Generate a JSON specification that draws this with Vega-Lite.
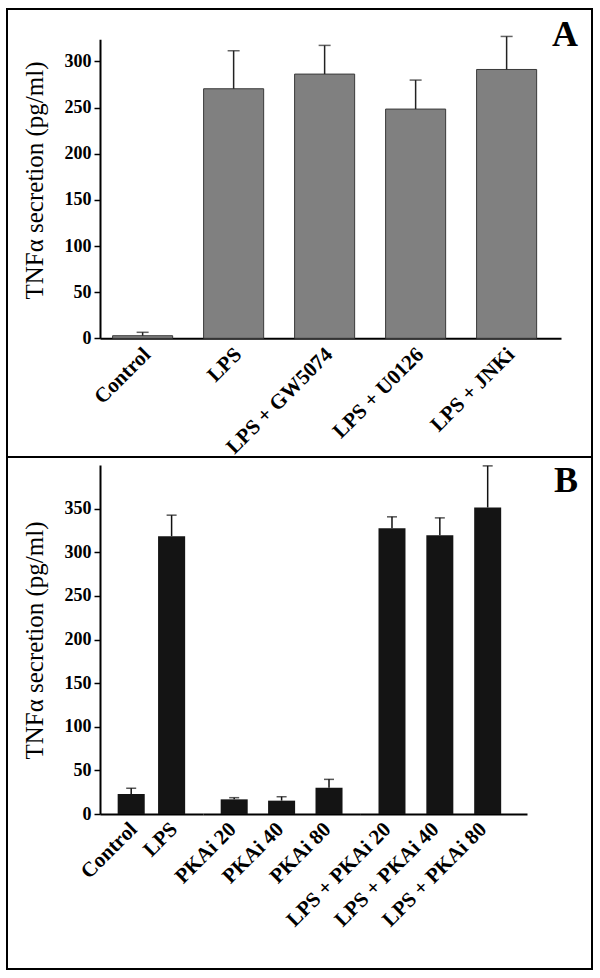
{
  "$schema": "https://vega.github.io/schema/vega-lite/v6.json",
  "padding": {"left": 6, "top": 8, "right": 0, "bottom": 0},
  "autosize": {"type": "pad"},
  "bounds": "flush",
  "spacing": 0,
  "background": "white",
  "config": {
    "view": {"stroke": "#000", "strokeWidth": 2},
    "axis": {"domainColor": "#000", "domainWidth": 2, "tickColor": "#000", "tickWidth": 1.5, "labelColor": "#000", "labelFont": "Liberation Serif", "labelFontWeight": "bold", "titleFont": "Liberation Serif", "titleFontWeight": "normal", "titleColor": "#000", "grid": false, "zindex": 1}
  },
  "datasets": {
    "a": [
      {"condition": "Control", "value": 2.8, "err": 6.5},
      {"condition": "LPS", "value": 270.4, "err": 311.6},
      {"condition": "LPS + GW5074", "value": 286.3, "err": 317.4},
      {"condition": "LPS + U0126", "value": 248.4, "err": 279.8},
      {"condition": "LPS + JNKi", "value": 291.3, "err": 327.1}
    ],
    "b": [
      {"group": "g1", "condition": "Control", "value": 22.9, "err": 29.4},
      {"group": "g1", "condition": "LPS", "value": 318.4, "err": 342.5},
      {"group": "g2", "condition": "PKAi 20", "value": 16.8, "err": 18.7},
      {"group": "g2", "condition": "PKAi 40", "value": 15.3, "err": 19.8},
      {"group": "g2", "condition": "PKAi 80", "value": 30.1, "err": 39.7},
      {"group": "g3", "condition": "LPS + PKAi 20", "value": 327.6, "err": 340.6},
      {"group": "g3", "condition": "LPS + PKAi 40", "value": 319.6, "err": 339.4},
      {"group": "g3", "condition": "LPS + PKAi 80", "value": 351.3, "err": 399}
    ]
  },
  "vconcat": [
    {
      "width": 585,
      "height": 448,
      "title": {"text": "A", "anchor": "end", "frame": "group", "orient": "top", "offset": -73, "baseline": "alphabetic", "dx": -14, "fontSize": 36, "font": "Liberation Serif", "fontWeight": "bold", "color": "#000"},
      "data": {"name": "a"},
      "encoding": {
        "x": {"field": "condition", "type": "nominal", "sort": null,
          "scale": {"range": [93, 554], "paddingInner": 0.34, "paddingOuter": 0.203, "align": 0.341},
          "axis": {"title": null, "orient": "bottom", "offset": -118.7, "ticks": false, "labelAngle": -45, "labelAlign": "right", "labelBaseline": "top", "labelPadding": 5, "labelOffset": -3, "labelFontSize": 21}}
      },
      "layer": [
        {"mark": {"type": "bar", "fill": "#808080", "stroke": "#3a3a3a", "strokeWidth": 1},
          "encoding": {"y": {"field": "value", "type": "quantitative",
            "scale": {"domain": [0, 324], "range": [329.3, 30.3], "nice": false, "zero": true},
            "axis": {"title": "TNFα secretion (pg/ml)", "values": [0, 50, 100, 150, 200, 250, 300], "offset": -93, "tickSize": 6, "labelFontSize": 18, "labelPadding": 3, "titleFontSize": 25, "titleX": -66, "titleY": 171, "titleAngle": -90, "titleBaseline": "middle", "titleAlign": "center"}}}},
        {"mark": {"type": "rule", "color": "#222", "strokeWidth": 1.5},
          "encoding": {"y": {"field": "value", "type": "quantitative",
            "scale": {"domain": [0, 324], "range": [329.3, 30.3], "nice": false, "zero": true},
            "axis": {"title": "TNFα secretion (pg/ml)", "values": [0, 50, 100, 150, 200, 250, 300], "offset": -93, "tickSize": 6, "labelFontSize": 18, "labelPadding": 3, "titleFontSize": 25, "titleX": -66, "titleY": 171, "titleAngle": -90, "titleBaseline": "middle", "titleAlign": "center"}},
            "y2": {"field": "err"}}},
        {"mark": {"type": "tick", "color": "#222", "thickness": 1.5, "size": 12},
          "encoding": {"y": {"field": "err", "type": "quantitative",
            "scale": {"domain": [0, 324], "range": [329.3, 30.3], "nice": false, "zero": true},
            "axis": {"title": "TNFα secretion (pg/ml)", "values": [0, 50, 100, 150, 200, 250, 300], "offset": -93, "tickSize": 6, "labelFontSize": 18, "labelPadding": 3, "titleFontSize": 25, "titleX": -66, "titleY": 171, "titleAngle": -90, "titleBaseline": "middle", "titleAlign": "center"}}}}
      ]
    },
    {
      "width": 585,
      "height": 512,
      "title": {"text": "B", "anchor": "end", "frame": "group", "orient": "top", "offset": -71, "baseline": "alphabetic", "dx": -14, "fontSize": 36, "font": "Liberation Serif", "fontWeight": "bold", "color": "#000"},
      "data": {"name": "b"},
      "resolve": {"scale": {"x": "independent"}, "axis": {"x": "independent"}},
      "layer": [
        {
          "transform": [{"filter": "datum.group === 'g1'"}],
          "encoding": {"x": {"field": "condition", "type": "nominal", "sort": null,
            "scale": {"range": [93, 195.8], "paddingInner": 0.33, "paddingOuter": 0.437, "align": 0.5},
            "axis": {"title": null, "orient": "bottom", "offset": -155, "ticks": false, "labelAngle": -45, "labelAlign": "right", "labelBaseline": "top", "labelPadding": 4, "labelOffset": -5, "labelFontSize": 21}}},
          "layer": [
            {"mark": {"type": "bar", "fill": "#141414"},
              "encoding": {"y": {"field": "value", "type": "quantitative",
                "scale": {"domain": [0, 400], "range": [357, 8], "nice": false, "zero": true},
                "axis": {"title": "TNFα secretion (pg/ml)", "values": [0, 50, 100, 150, 200, 250, 300, 350], "offset": -93, "tickSize": 6, "labelFontSize": 18, "labelPadding": 3, "titleFontSize": 25, "titleX": -66, "titleY": 183, "titleAngle": -90, "titleBaseline": "middle", "titleAlign": "center"}}}},
            {"mark": {"type": "rule", "color": "#111", "strokeWidth": 1.5},
              "encoding": {"y": {"field": "value", "type": "quantitative",
                "scale": {"domain": [0, 400], "range": [357, 8], "nice": false, "zero": true},
                "axis": {"title": "TNFα secretion (pg/ml)", "values": [0, 50, 100, 150, 200, 250, 300, 350], "offset": -93, "tickSize": 6, "labelFontSize": 18, "labelPadding": 3, "titleFontSize": 25, "titleX": -66, "titleY": 183, "titleAngle": -90, "titleBaseline": "middle", "titleAlign": "center"}},
                "y2": {"field": "err"}}},
            {"mark": {"type": "tick", "color": "#111", "thickness": 1.5, "size": 10},
              "encoding": {"y": {"field": "err", "type": "quantitative",
                "scale": {"domain": [0, 400], "range": [357, 8], "nice": false, "zero": true},
                "axis": {"title": "TNFα secretion (pg/ml)", "values": [0, 50, 100, 150, 200, 250, 300, 350], "offset": -93, "tickSize": 6, "labelFontSize": 18, "labelPadding": 3, "titleFontSize": 25, "titleX": -66, "titleY": 183, "titleAngle": -90, "titleBaseline": "middle", "titleAlign": "center"}}}}
          ]
        },
        {
          "transform": [{"filter": "datum.group === 'g2'"}],
          "encoding": {"x": {"field": "condition", "type": "nominal", "sort": null,
            "scale": {"range": [195.8, 353.4], "paddingInner": 0.43, "paddingOuter": 0.377, "align": 0.5},
            "axis": {"title": null, "orient": "bottom", "offset": -155, "ticks": false, "labelAngle": -45, "labelAlign": "right", "labelBaseline": "top", "labelPadding": 4, "labelOffset": -9, "labelFontSize": 21}}},
          "layer": [
            {"mark": {"type": "bar", "fill": "#141414"},
              "encoding": {"y": {"field": "value", "type": "quantitative",
                "scale": {"domain": [0, 400], "range": [357, 8], "nice": false, "zero": true},
                "axis": {"title": "TNFα secretion (pg/ml)", "values": [0, 50, 100, 150, 200, 250, 300, 350], "offset": -93, "tickSize": 6, "labelFontSize": 18, "labelPadding": 3, "titleFontSize": 25, "titleX": -66, "titleY": 183, "titleAngle": -90, "titleBaseline": "middle", "titleAlign": "center"}}}},
            {"mark": {"type": "rule", "color": "#111", "strokeWidth": 1.5},
              "encoding": {"y": {"field": "value", "type": "quantitative",
                "scale": {"domain": [0, 400], "range": [357, 8], "nice": false, "zero": true},
                "axis": {"title": "TNFα secretion (pg/ml)", "values": [0, 50, 100, 150, 200, 250, 300, 350], "offset": -93, "tickSize": 6, "labelFontSize": 18, "labelPadding": 3, "titleFontSize": 25, "titleX": -66, "titleY": 183, "titleAngle": -90, "titleBaseline": "middle", "titleAlign": "center"}},
                "y2": {"field": "err"}}},
            {"mark": {"type": "tick", "color": "#111", "thickness": 1.5, "size": 10},
              "encoding": {"y": {"field": "err", "type": "quantitative",
                "scale": {"domain": [0, 400], "range": [357, 8], "nice": false, "zero": true},
                "axis": {"title": "TNFα secretion (pg/ml)", "values": [0, 50, 100, 150, 200, 250, 300, 350], "offset": -93, "tickSize": 6, "labelFontSize": 18, "labelPadding": 3, "titleFontSize": 25, "titleX": -66, "titleY": 183, "titleAngle": -90, "titleBaseline": "middle", "titleAlign": "center"}}}}
          ]
        },
        {
          "transform": [{"filter": "datum.group === 'g3'"}],
          "encoding": {"x": {"field": "condition", "type": "nominal", "sort": null,
            "scale": {"range": [353.4, 520], "paddingInner": 0.436, "paddingOuter": 0.459, "align": 0.412},
            "axis": {"title": null, "orient": "bottom", "offset": -155, "ticks": false, "labelAngle": -45, "labelAlign": "right", "labelBaseline": "top", "labelPadding": 4, "labelOffset": -12, "labelFontSize": 21}}},
          "layer": [
            {"mark": {"type": "bar", "fill": "#141414"},
              "encoding": {"y": {"field": "value", "type": "quantitative",
                "scale": {"domain": [0, 400], "range": [357, 8], "nice": false, "zero": true},
                "axis": {"title": "TNFα secretion (pg/ml)", "values": [0, 50, 100, 150, 200, 250, 300, 350], "offset": -93, "tickSize": 6, "labelFontSize": 18, "labelPadding": 3, "titleFontSize": 25, "titleX": -66, "titleY": 183, "titleAngle": -90, "titleBaseline": "middle", "titleAlign": "center"}}}},
            {"mark": {"type": "rule", "color": "#111", "strokeWidth": 1.5},
              "encoding": {"y": {"field": "value", "type": "quantitative",
                "scale": {"domain": [0, 400], "range": [357, 8], "nice": false, "zero": true},
                "axis": {"title": "TNFα secretion (pg/ml)", "values": [0, 50, 100, 150, 200, 250, 300, 350], "offset": -93, "tickSize": 6, "labelFontSize": 18, "labelPadding": 3, "titleFontSize": 25, "titleX": -66, "titleY": 183, "titleAngle": -90, "titleBaseline": "middle", "titleAlign": "center"}},
                "y2": {"field": "err"}}},
            {"mark": {"type": "tick", "color": "#111", "thickness": 1.5, "size": 10},
              "encoding": {"y": {"field": "err", "type": "quantitative",
                "scale": {"domain": [0, 400], "range": [357, 8], "nice": false, "zero": true},
                "axis": {"title": "TNFα secretion (pg/ml)", "values": [0, 50, 100, 150, 200, 250, 300, 350], "offset": -93, "tickSize": 6, "labelFontSize": 18, "labelPadding": 3, "titleFontSize": 25, "titleX": -66, "titleY": 183, "titleAngle": -90, "titleBaseline": "middle", "titleAlign": "center"}}}}
          ]
        }
      ]
    }
  ]
}
